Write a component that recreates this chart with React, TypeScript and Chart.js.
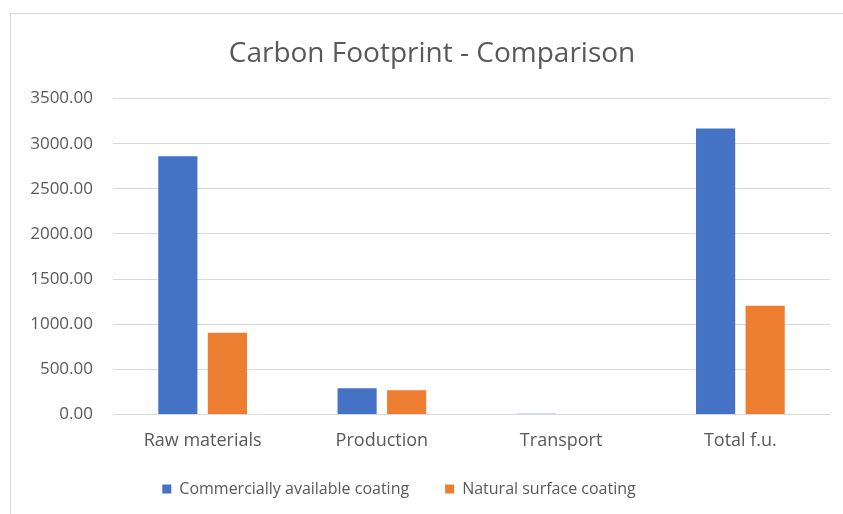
import React, { useEffect, useRef } from "react";
import { Chart, registerables } from "chart.js";

Chart.register(...registerables);

const categories = ["Raw materials", "Production", "Transport", "Total f.u."];
const commercialValues = [2860, 290, 6, 3170];
const naturalValues = [905, 268, 4, 1205];
const seriesNames = ["Commercially available coating", "Natural surface coating"];
const yTicks = [0, 500, 1000, 1500, 2000, 2500, 3000, 3500];

const FONT = "'Open Sans', sans-serif";
const TEXT = "#595959";

const shiftPlugin = {
  id: "shiftBoxes",
  afterLayout(chart: any) {
    const t = chart.titleBlock;
    if (t) {
      t.left += 12;
      t.right += 12;
    }
    const l = chart.legend;
    if (l) {
      l.left -= 21;
      l.right -= 21;
      l.top -= 15;
      l.bottom = 514;
    }
  },
};

export default function App() {
  const ref = useRef<HTMLCanvasElement | null>(null);

  useEffect(() => {
    document.body.style.margin = "0";
    const canvas = ref.current;
    if (!canvas) return;
    const chart = new Chart(canvas, {
      type: "bar",
      data: {
        labels: categories,
        datasets: [
          {
            label: seriesNames[0],
            data: commercialValues,
            backgroundColor: "#4472C4",
            categoryPercentage: 0.553,
            barPercentage: 0.79,
          },
          {
            label: seriesNames[1],
            data: naturalValues,
            backgroundColor: "#ED7D31",
            categoryPercentage: 0.553,
            barPercentage: 0.79,
          },
        ],
      },
      plugins: [shiftPlugin],
      options: {
        animation: false,
        responsive: false,
        devicePixelRatio: 1,
        layout: { padding: { left: 10, right: 13, top: 0, bottom: 8 } },
        plugins: {
          title: {
            display: true,
            text: "Carbon Footprint - Comparison",
            color: TEXT,
            font: { family: FONT, size: 28, weight: "normal" },
            padding: { top: 37, bottom: 28 },
          },
          legend: {
            position: "bottom",
            maxHeight: 46,
            labels: {
              color: TEXT,
              font: { family: FONT, size: 16 },
              boxWidth: 9,
              boxHeight: 9,
              padding: 36,
            },
          },
          tooltip: { enabled: false },
        },
        scales: {
          x: {
            grid: { display: false },
            border: { display: false },
            ticks: { color: TEXT, font: { family: FONT, size: 18 }, padding: 8 },
          },
          y: {
            min: 0,
            max: 3500,
            afterBuildTicks: (axis: any) => {
              axis.ticks = yTicks.map((v) => ({ value: v }));
            },
            afterFit: (axis: any) => {
              axis.width = 103;
            },
            grid: { color: "#d9d9d9", lineWidth: 1, drawTicks: false },
            border: { display: false },
            ticks: {
              color: TEXT,
              font: { family: FONT, size: 17 },
              padding: 20,
              callback: (v: any) => Number(v).toFixed(2),
            },
          },
        },
      },
    });
    return () => chart.destroy();
  }, []);

  return (
    <div style={{ position: "relative", width: 843, height: 514, background: "#fff" }}>
      <div
        style={{
          position: "absolute",
          left: 10,
          top: 13,
          width: 833,
          height: 501,
          borderLeft: "1px solid #d9d9d9",
          borderTop: "1px solid #d9d9d9",
          boxSizing: "border-box",
        }}
      />
      <canvas ref={ref} width={843} height={514} style={{ position: "absolute", left: 0, top: 0 }} />
    </div>
  );
}
